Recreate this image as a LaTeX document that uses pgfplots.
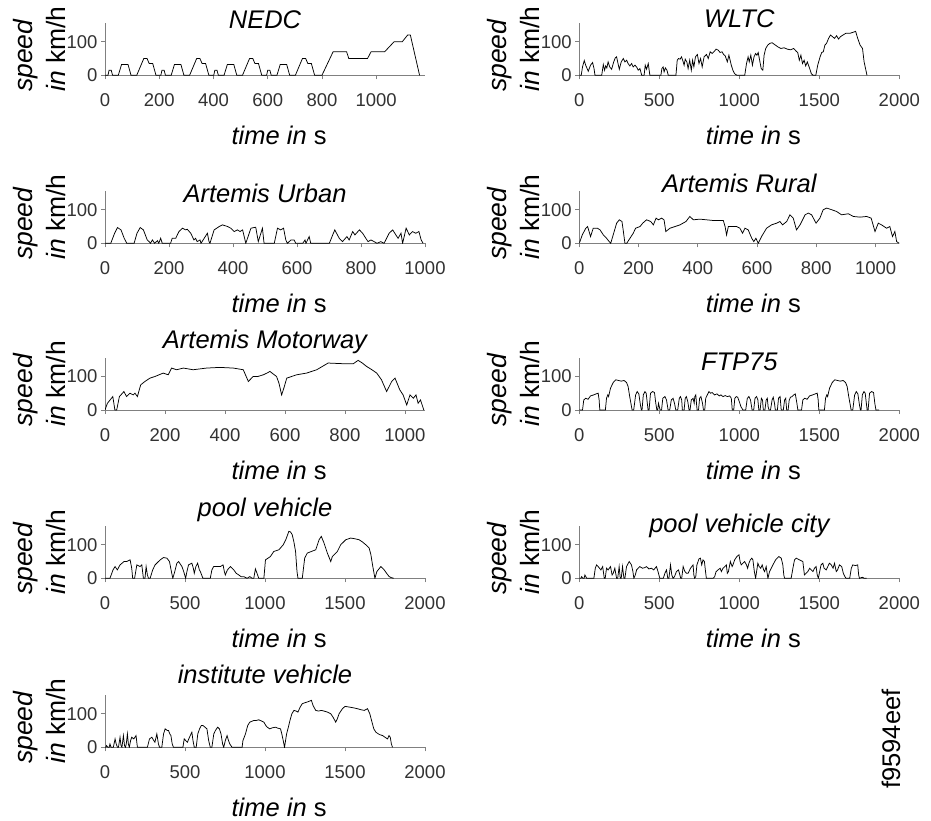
\documentclass[border=0pt]{standalone}
\usepackage{pgfplots}
\pgfplotsset{compat=1.18}
\usepackage{fontspec}
\setmainfont{Liberation Sans}
\definecolor{axgray}{RGB}{128,128,128}
\definecolor{tickgray}{RGB}{50,50,50}
\newcommand{\lblfont}{\fontsize{25.5}{33}\selectfont}
\newcommand{\ylblfont}{\fontsize{26.5}{33}\selectfont}
\newcommand{\tickfont}{\fontsize{18.5}{20}\selectfont}
\pgfplotsset{
 panel/.style={
  scale only axis, width=320pt, height=52pt,
  xmin=0, ymin=0, ymax=155, ytick={0,100},
  axis x line*=bottom, axis y line*=left,
  axis line style={axgray, line width=0.8pt},
  tick style={axgray, line width=0.8pt},
  tick align=outside, major tick length=4pt,
  ticklabel style={font=\tickfont, text=tickgray},
  xticklabel style={yshift=-11pt},
  /pgf/number format/assume math mode=true,
  /pgf/number format/1000 sep={},
  cycle list={{black, line width=0.75pt, mark=none}},
  every axis plot post/.append style={black, line width=0.75pt, mark=none},
  xlabel={\textit{time in} s},
  xlabel style={font=\lblfont, at={(axis description cs:0.544,-1.34)}, anchor=base, inner sep=0pt},
  ylabel={\textit{speed}\\\textit{in} km/h},
  ylabel style={font=\ylblfont, align=left, at={(axis description cs:-0.205,-0.32)}, anchor=west, inner sep=0pt},
  title style={font=\lblfont\itshape, anchor=base, inner sep=0pt},
 },
 left/.style={at={(105pt,#1)}, anchor=south west},
 right/.style={at={(579.3pt,#1)}, anchor=south west},
}
\begin{document}
\begin{tikzpicture}
\useasboundingbox (0,0) rectangle (931pt,-821pt);
% NEDC
\begin{axis}[panel, left=-75.3pt, xmax=1180, xtick={0,200,...,1000},
  title={NEDC}, title style={at={(axis description cs:0.5,0.785)}}]
\addplot coordinates {(0,0)(11,0)(15,15)(23,15)(28,0)(49,0)(61,32)(85,32)(96,0)(117,0)(143,50)(155,50)(163,35)(176,35)(188,0)
(206,0)(210,15)(218,15)(223,0)(244,0)(256,32)(280,32)(291,0)(312,0)(338,50)(350,50)(358,35)(371,35)(383,0)
(401,0)(405,15)(413,15)(418,0)(439,0)(451,32)(475,32)(486,0)(507,0)(533,50)(545,50)(553,35)(566,35)(578,0)
(596,0)(600,15)(608,15)(613,0)(634,0)(646,32)(670,32)(681,0)(702,0)(728,50)(740,50)(748,35)(761,35)(773,0)
(800,0)(841,70)(891,70)(899,50)(968,50)(981,70)(1031,70)(1066,100)(1096,100)(1116,120)(1126,120)(1160,0)};
\end{axis}
% WLTC
\begin{axis}[panel, right=-75.3pt, xmax=2000, xtick={0,500,...,2000},
  title={WLTC}, title style={at={(axis description cs:0.5,0.81)}}]
\addplot coordinates {(0,0)(12,0)(20,25)(31,44)(40,30)(56,12)(70,30)(83,38)(92,20)(98,0)(140,0)(150,32)(158,15)(165,28)(172,22)(180,40)(190,25)(202,18)(215,40)(225,52)(233,55)(242,35)(250,18)(262,40)(275,50)(285,40)(296,45)(305,35)(316,28)(327,35)(337,25)(348,30)(358,25)(368,15)(379,20)(390,0)(405,0)(412,30)(420,18)(431,35)(441,0)(510,0)(516,20)(524,25)(530,10)(538,22)(548,15)(556,0)(604,0)(612,45)(620,50)(630,48)(639,55)(648,42)(655,30)(662,48)(672,40)(680,20)(690,45)(700,15)(708,45)(716,25)(726,55)(738,62)(748,35)(758,50)(768,25)(780,55)(795,62)(806,50)(818,70)(830,65)(845,72)(855,78)(868,75)(880,68)(892,70)(902,62)(912,58)(925,40)(935,60)(950,30)(960,15)(970,5)(985,0)(1034,0)(1045,35)(1055,55)(1062,40)(1072,60)(1082,30)(1092,55)(1102,65)(1110,60)(1118,68)(1127,45)(1137,20)(1147,15)(1155,60)(1165,80)(1178,90)(1190,95)(1205,97)(1220,92)(1240,85)(1260,80)(1280,82)(1300,78)(1320,76)(1340,80)(1355,72)(1365,68)(1375,45)(1385,60)(1395,35)(1405,45)(1415,28)(1425,40)(1440,20)(1450,5)(1461,0)(1478,0)(1490,30)(1505,55)(1515,68)(1525,70)(1535,90)(1545,95)(1558,110)(1570,120)(1583,115)(1595,110)(1608,118)(1620,108)(1632,115)(1648,120)(1665,125)(1690,125)(1710,128)(1727,131)(1740,110)(1755,90)(1770,80)(1780,40)(1798,0)};
\end{axis}
% Artemis Urban
\begin{axis}[panel, left=-243.3pt, xmax=1000, xtick={0,200,...,1000},
  title={Artemis Urban}, title style={at={(axis description cs:0.5,0.675)}}]
\addplot coordinates {(0,0)(18,0)(30,30)(39,47)(50,40)(60,15)(68,0)(91,0)(100,30)(110,47)(120,40)(132,10)(138,5)(142,0)(148,10)(155,0)(164,8)(168,0)(174,15)(179,0)(205,0)(210,15)(221,15)(231,35)(242,45)(252,40)(257,42)(268,30)(278,10)(283,15)(288,5)(297,10)(300,0)(310,15)(320,30)(325,5)(328,0)(341,40)(357,50)(367,55)(383,50)(393,45)(404,35)(414,40)(422,35)(430,40)(440,0)(456,45)(471,48)(479,5)(492,45)(497,0)(529,0)(539,45)(549,40)(558,45)(565,10)(570,0)(581,10)(591,10)(596,0)(618,0)(625,10)(628,0)(638,20)(643,0)(701,0)(718,40)(732,15)(742,5)(756,20)(763,10)(774,35)(781,25)(795,40)(805,30)(815,15)(822,5)(831,10)(841,5)(850,0)(862,5)(872,0)(888,30)(899,40)(909,25)(916,15)(925,30)(930,0)(941,45)(951,25)(961,35)(971,30)(981,35)(988,10)(994,0)};
\end{axis}
% Artemis Rural
\begin{axis}[panel, right=-243.3pt, xmax=1080, xtick={0,200,...,1000},
  title={Artemis Rural}, title style={at={(axis description cs:0.5,0.865)}}]
\addplot coordinates {(0,0)(10,25)(22,45)(28,50)(38,20)(47,45)(61,45)(70,40)(81,25)(92,15)(101,5)(106,0)(116,30)(126,60)(135,70)(144,65)(148,40)(154,0)(160,0)(171,15)(182,30)(190,45)(205,50)(214,60)(227,70)(241,65)(250,55)(259,75)(267,70)(278,75)(286,70)(292,35)(306,45)(340,55)(360,65)(373,80)(385,70)(407,72)(452,68)(486,68)(492,50)(497,25)(503,50)(531,50)(542,45)(551,30)(559,45)(570,40)(582,15)(589,5)(596,15)(604,0)(615,20)(632,45)(649,55)(666,60)(677,65)(686,55)(700,65)(711,85)(722,75)(733,40)(745,55)(762,85)(773,90)(784,85)(799,60)(812,75)(823,100)(835,105)(852,100)(868,95)(885,85)(908,88)(925,80)(947,78)(970,80)(985,75)(998,35)(1009,60)(1020,55)(1037,45)(1048,50)(1057,20)(1065,35)(1071,5)(1080,0)};
\end{axis}
% Artemis Motorway
\begin{axis}[panel, left=-410pt, xmax=1067, xtick={0,200,...,1000},
  title={Artemis Motorway}, title style={at={(axis description cs:0.5,1.065)}}]
\addplot coordinates {(0,0)(8,20)(17,30)(26,40)(33,0)(39,0)(48,40)(63,55)(72,40)(83,50)(94,45)(100,50)(108,40)(119,75)(133,85)(150,95)(167,100)(194,110)(211,105)(222,125)(239,120)(261,125)(294,120)(339,125)(383,127)(428,125)(461,120)(478,85)(494,100)(510,100)(528,105)(540,110)(550,115)(560,108)(572,100)(580,80)(589,45)(598,70)(606,95)(639,105)(672,110)(706,120)(744,140)(794,138)(828,138)(844,148)(858,140)(872,130)(890,120)(906,110)(922,90)(939,55)(956,85)(967,95)(983,60)(994,45)(1006,15)(1017,45)(1028,35)(1037,45)(1044,20)(1052,30)(1063,0)};
\end{axis}
% FTP75
\begin{axis}[panel, right=-410pt, xmax=2000, xtick={0,500,...,2000},
  title={FTP75}, title style={at={(axis description cs:0.5,0.645)}}]
\addplot coordinates {(0,0)(20,0)(28,30)(40,35)(55,32)(70,42)(90,45)(105,48)(118,50)(124,30)(128,0)(163,0)(170,35)(178,45)(183,40)(195,65)(212,82)(228,90)(245,88)(262,86)(280,88)(295,82)(305,70)(315,40)(330,0)(340,0)(352,45)(362,55)(372,48)(382,15)(388,0)(392,0)(400,45)(410,55)(418,50)(425,20)(430,0)(436,0)(445,50)(458,55)(470,52)(478,20)(485,0)(490,0)(495,20)(500,10)(505,0)
(514,0)(522,35)(535,40)(545,30)(555,0)(565,0)(575,30)(586,35)(595,20)(603,0)(615,0)(625,35)(632,40)(640,30)(644,0)(655,0)(662,35)(669,40)(678,25)(686,0)(692,0)(700,30)(711,35)(718,20)(722,40)(728,45)(736,0)(745,0)(752,35)(760,40)(770,20)(776,0)(784,0)(790,35)(800,45)(810,55)(820,50)(830,52)(846,45)(860,48)(875,42)(885,45)(898,40)(912,43)(925,40)(940,42)(950,35)(956,0)(965,0)(972,35)(981,40)(990,38)(1000,25)(1010,10)(1023,0)(1040,0)(1050,35)(1060,40)(1070,30)(1080,0)(1090,0)(1098,35)(1108,40)(1116,30)(1122,0)(1130,0)(1138,35)(1145,30)(1150,0)(1160,0)(1168,30)(1175,35)(1180,10)(1186,0)(1195,0)(1205,30)(1212,38)(1220,20)(1225,0)(1238,0)(1245,35)(1255,40)(1262,0)(1275,0)(1283,30)(1290,35)(1296,0)(1305,0)(1312,30)(1320,38)(1330,40)(1340,45)(1350,48)(1360,20)(1366,0)
(1389,0)(1397,30)(1409,35)(1424,32)(1439,42)(1459,45)(1474,48)(1487,50)(1493,30)(1497,0)(1532,0)(1539,35)(1547,45)(1552,40)(1564,65)(1581,82)(1597,90)(1614,88)(1631,86)(1649,88)(1664,82)(1674,70)(1684,40)(1699,0)(1709,0)(1721,45)(1731,55)(1741,48)(1751,15)(1757,0)(1761,0)(1769,45)(1779,55)(1787,50)(1794,20)(1799,0)(1805,0)(1814,50)(1827,55)(1839,52)(1847,20)(1854,0)(1874,0)};
\end{axis}
% pool vehicle
\begin{axis}[panel, left=-578.3pt, xmax=2000, xtick={0,500,...,2000},
  title={pool vehicle}, title style={at={(axis description cs:0.5,1.075)}}]
\addplot coordinates {(0,0)(31,0)(50,25)(63,35)(77,25)(94,40)(119,50)(136,50)(157,55)(167,30)(173,0)(185,0)(199,40)(219,35)(230,40)(240,0)(250,0)(257,35)(265,10)(272,0)(282,0)(298,25)(313,40)(345,55)(366,62)(387,60)(403,50)(415,20)(424,0)(436,20)(449,45)(460,50)(481,35)(492,20)(504,0)(512,20)(522,40)(543,45)(552,30)(558,15)(568,35)(579,45)(590,25)(596,20)(612,0)(658,0)(668,25)(679,35)(721,35)(738,40)(746,20)(752,10)(765,25)(784,35)(805,25)(820,15)(836,10)(850,5)(867,5)(888,0)(905,5)(920,0)(930,0)(940,28)(950,15)(961,0)(993,0)(1003,55)(1034,65)(1055,80)(1087,85)(1114,100)(1130,115)(1149,140)(1160,138)(1170,130)(1180,110)(1191,80)(1200,20)(1206,0)(1233,0)(1248,60)(1264,75)(1290,80)(1317,85)(1338,115)(1352,125)(1369,105)(1390,75)(1411,50)(1421,65)(1452,80)(1473,100)(1505,115)(1536,120)(1560,118)(1588,115)(1610,108)(1630,100)(1651,90)(1662,70)(1672,40)(1687,0)(1699,20)(1724,35)(1745,25)(1760,15)(1776,5)(1790,2)(1804,0)};
\end{axis}
% pool vehicle city
\begin{axis}[panel, right=-578.3pt, xmax=2000, xtick={0,500,...,2000},
  title={pool vehicle city}, title style={at={(axis description cs:0.5,0.765)}}]
\addplot coordinates {(0,0)(10,0)(15,5)(22,0)(30,0)(35,10)(46,0)(91,0)(100,30)(108,40)(118,35)(126,30)(135,25)(146,35)(156,0)(162,0)(170,30)(180,25)(195,35)(205,10)(212,15)(222,30)(233,0)(240,0)(249,35)(256,0)(262,0)(270,35)(279,0)(285,0)(295,35)(312,50)(326,40)(335,20)(341,0)(350,10)(358,25)(378,35)(395,30)(410,32)(420,35)(435,28)(451,30)(465,25)(482,35)(492,20)(503,0)(525,0)(535,15)(545,25)(553,0)(560,0)(570,40)(578,10)(586,0)(595,5)(607,20)(620,25)(634,0)(640,0)(649,35)(660,20)(670,15)(680,15)(695,30)(711,40)(716,10)(721,0)(728,5)(735,40)(748,58)(757,60)(765,40)(773,55)(782,50)(789,20)(794,0)(836,0)(846,5)(855,20)(867,25)(880,30)(888,20)(898,30)(910,35)(919,40)(925,15)(932,20)(944,50)(955,35)(960,40)(971,55)(985,65)(998,70)(1005,50)(1012,40)(1022,45)(1033,50)(1045,40)(1052,30)(1060,45)(1069,55)(1078,60)(1085,55)(1094,20)(1102,0)(1108,20)(1116,45)(1124,35)(1134,30)(1143,40)(1152,25)(1158,20)(1168,35)(1174,15)(1179,0)(1189,20)(1200,30)(1210,40)(1227,55)(1247,65)(1262,60)(1272,40)(1278,10)(1283,0)(1324,0)(1335,30)(1345,55)(1356,60)(1376,55)(1397,50)(1407,10)(1418,15)(1428,20)(1440,30)(1450,25)(1460,20)(1470,30)(1480,35)(1487,10)(1494,0)(1500,15)(1511,40)(1522,45)(1530,30)(1543,25)(1553,35)(1563,45)(1575,40)(1586,30)(1595,45)(1606,20)(1614,25)(1626,40)(1640,35)(1650,15)(1660,5)(1667,0)(1690,0)(1700,30)(1709,40)(1725,38)(1740,40)(1746,10)(1751,0)(1762,2)(1771,3)(1780,0)(1796,0)};
\end{axis}
% institute vehicle
\begin{axis}[panel, left=-747.3pt, xmax=2000, xtick={0,500,...,2000},
  title={institute vehicle}, title style={at={(axis description cs:0.5,1.115)}}]
\addplot coordinates {(0,0)(5,0)(10,5)(18,0)(26,0)(31,10)(38,0)(52,0)(63,25)(70,10)(78,0)(84,0)(94,30)(100,5)(106,0)(115,35)(122,5)(128,0)(133,10)(140,40)(146,10)(152,0)(160,20)(167,30)(180,25)(194,35)(200,10)(203,0)(265,0)(278,25)(293,30)(305,20)(312,15)(324,40)(334,10)(341,0)(355,0)(366,40)(376,55)(390,50)(397,50)(405,40)(412,35)(420,10)(428,0)(487,0)(495,25)(505,20)(515,15)(528,30)(543,45)(550,20)(558,0)(570,0)(580,40)(591,55)(602,65)(612,65)(625,60)(637,55)(648,20)(658,0)(668,0)(680,40)(690,50)(704,60)(715,55)(725,40)(735,10)(742,0)(752,20)(763,35)(772,20)(780,10)(787,5)(794,0)(857,0)(862,20)(878,40)(892,65)(905,75)(930,80)(945,80)(961,82)(980,78)(993,75)(1005,65)(1014,60)(1030,55)(1045,58)(1066,60)(1080,57)(1097,55)(1105,40)(1114,20)(1122,0)(1135,40)(1146,60)(1156,80)(1168,100)(1181,110)(1195,108)(1206,105)(1220,120)(1233,130)(1250,133)(1264,135)(1280,138)(1290,140)(1300,125)(1317,110)(1335,108)(1352,110)(1369,108)(1390,105)(1411,100)(1425,90)(1442,75)(1452,85)(1463,100)(1484,115)(1500,122)(1526,120)(1550,118)(1578,115)(1600,112)(1620,110)(1641,115)(1655,100)(1666,80)(1680,55)(1693,45)(1715,38)(1735,35)(1750,30)(1766,25)(1775,35)(1783,30)(1790,10)(1797,0)};
\end{axis}
\node[rotate=90, font=\lblfont, inner sep=0pt] at (891pt,-739pt) {f9594eef};
\end{tikzpicture}
\end{document}
